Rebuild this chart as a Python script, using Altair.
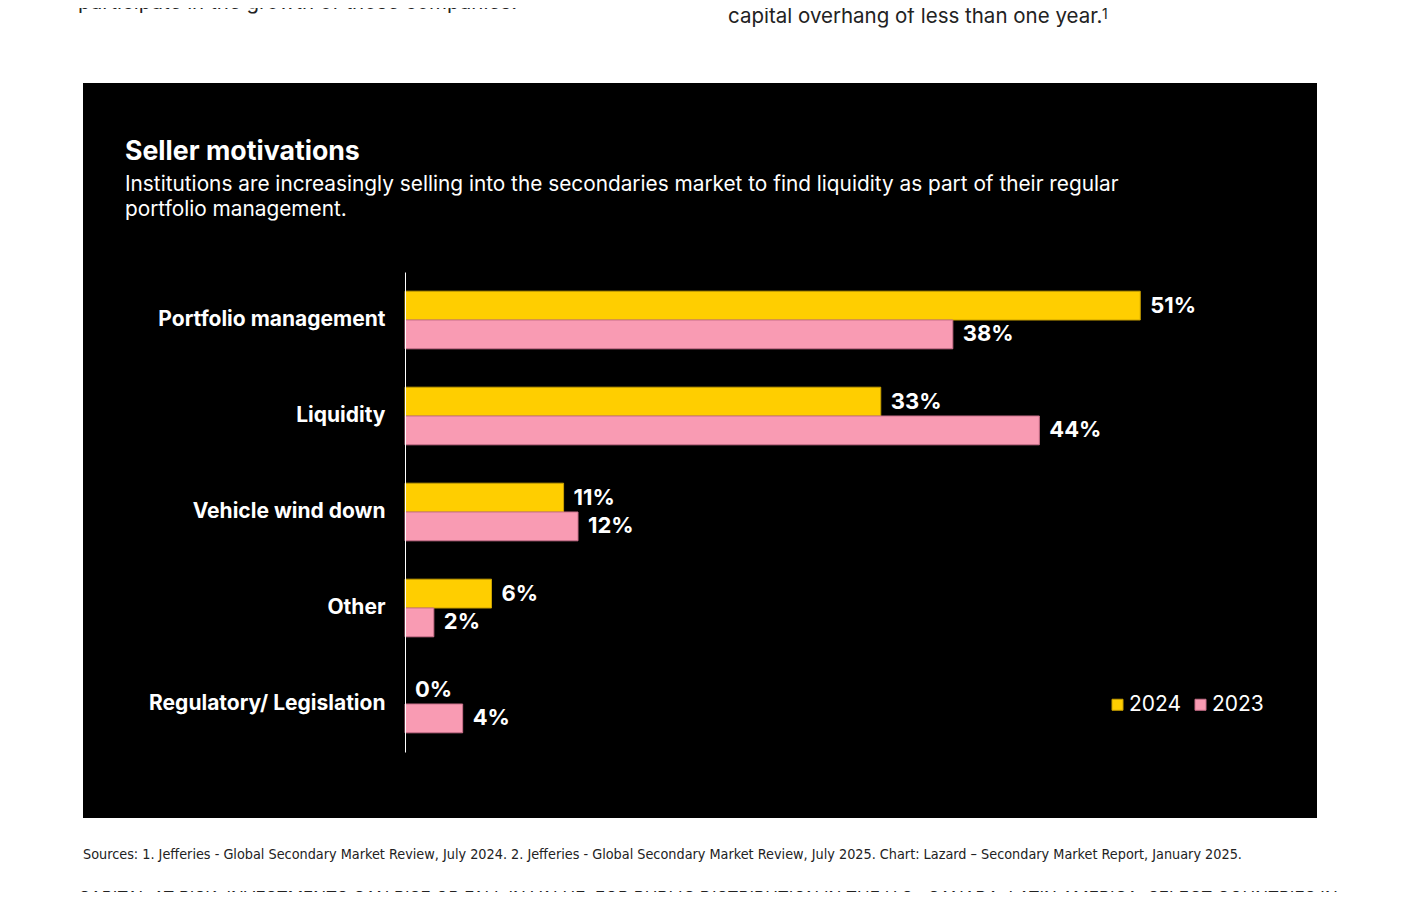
import altair as alt
import pandas as pd

categories = ["Portfolio management", "Liquidity", "Vehicle wind down", "Other", "Regulatory/ Legislation"]
years = ["2024", "2023"]
values_2024 = [51, 33, 11, 6, 0]
values_2023 = [38, 44, 12, 2, 4]
colors = ["#FFCE00", "#F99BB3"]
strokes = ["#C9A000", "#C9708A"]

title_text = "Seller motivations"
subtitle_lines = [
    "Institutions are increasingly selling into the secondaries market to find liquidity as part of their regular",
    "portfolio management.",
]
sources_text = ("Sources:  1. Jefferies - Global Secondary Market Review, July 2024. 2. Jefferies - Global Secondary "
                "Market Review, July 2025. Chart: Lazard \u2013 Secondary Market Report, January 2025.")
top_left_text = "participate in the growth of those companies."
top_right_text = "capital overhang of less than one year."
top_right_note = "1"
disclaimer_text = ("CAPITAL AT RISK. INVESTMENTS CAN RISE OR FALL IN VALUE. FOR PUBLIC DISTRIBUTION IN THE U.S., "
                   "CANADA, LATIN AMERICA, SELECT COUNTRIES IN")

rows = []
for c, a, b in zip(categories, values_2024, values_2023):
    rows.append({"category": c, "year": "2024", "value": a, "label": f"{a}%"})
    rows.append({"category": c, "year": "2023", "value": b, "label": f"{b}%"})
df = pd.DataFrame(rows)

FONT = "Inter"
W, H = 865, 480

one = pd.DataFrame({"a": [0]})

panel = alt.Chart(one).mark_rect(color="black").encode(
    x=alt.value(-322), x2=alt.value(912), y=alt.value(-189), y2=alt.value(546)
)

def txt(s, x, y, size, weight="normal", color="white", font=FONT):
    return alt.Chart(one).mark_text(
        text=s, align="left", baseline="alphabetic", fontSize=size, fontWeight=weight,
        color=color, font=font
    ).encode(x=alt.value(x), y=alt.value(y))

title = txt(title_text, -280, -112, 26.7, "bold")
sub1 = txt(subtitle_lines[0], -280, -81, 20.8)
sub2 = txt(subtitle_lines[1], -280, -56, 20.8)
sources = txt(sources_text, -322, 587, 14.3, color="#222222", font="DejaVu Sans Condensed")
top_left = txt(top_left_text, -327, -263, 20.5, color="#222222")
top_right = txt(top_right_text, 323, -249, 20.5, color="#222222")
top_note = txt(top_right_note, 697, -253, 14, color="#222222")
disclaimer = txt(disclaimer_text, -327, 632, 17, color="#222222")

y_enc = alt.Y(
    "category:N",
    sort=categories,
    scale=alt.Scale(paddingInner=0.4, paddingOuter=0.2),
    axis=alt.Axis(
        title=None, ticks=False, domain=True, domainColor="white", domainWidth=1,
        labelColor="white", labelFont=FONT, labelFontSize=21, labelFontWeight="bold",
        labelPadding=20, grid=False, labelLimit=400, zindex=1,
    ),
)
x_enc = alt.X("value:Q", scale=alt.Scale(domain=[0, 60]), axis=None)

bars = alt.Chart(df).mark_bar(strokeWidth=1).encode(
    y=y_enc,
    x=x_enc,
    yOffset=alt.YOffset("year:N", sort=years),
    color=alt.Color(
        "year:N",
        sort=years,
        scale=alt.Scale(domain=years, range=colors),
        legend=alt.Legend(
            title=None, orient="none", legendX=702, legendY=422, direction="horizontal",
            symbolType="square", symbolSize=121, symbolStrokeWidth=1,
            labelColor="white", labelFont=FONT, labelFontSize=21, labelOffset=1,
            columnPadding=8,
        ),
    ),
    stroke=alt.Stroke("year:N", sort=years, scale=alt.Scale(domain=years, range=strokes), legend=None),
    strokeOpacity=alt.condition(alt.datum.value > 0, alt.value(1), alt.value(0)),
)

labels = alt.Chart(df).mark_text(
    align="left", baseline="middle", dx=10, fontSize=22, fontWeight="bold", color="white", font=FONT
).encode(
    y=alt.Y("category:N", sort=categories),
    x=alt.X("value:Q"),
    yOffset=alt.YOffset("year:N", sort=years),
    text="label:N",
)

chart = alt.layer(
    panel, title, sub1, sub2, sources, top_left, top_right, top_note, disclaimer, bars, labels
).properties(
    width=W, height=H,
    padding={"left": 397, "top": 264, "right": 120, "bottom": 140},
    autosize=alt.AutoSizeParams(type="none"),
    background="white",
).configure_view(stroke=None)

chart.save("out.html", embed_options={"renderer": "svg", "actions": False})
